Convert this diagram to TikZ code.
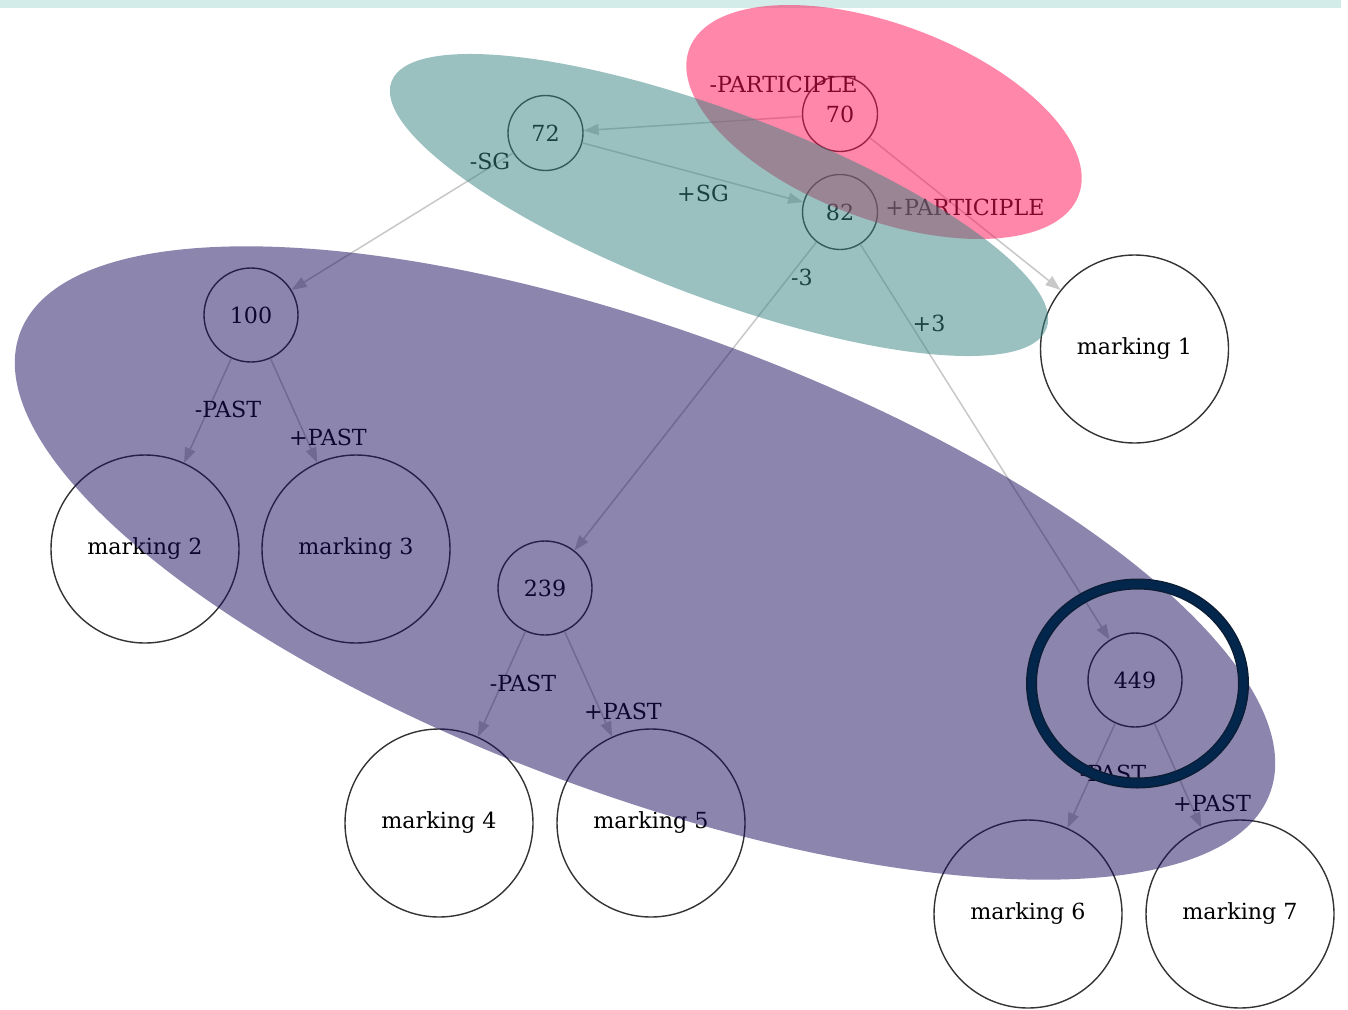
\documentclass[tikz,border=0pt]{standalone}
\usepackage{fontspec}
\setmainfont{DejaVu Serif}
\usetikzlibrary{arrows.meta}
\definecolor{tealc}{HTML}{378581}
\definecolor{pinkc}{HTML}{FF1155}
\definecolor{purc}{HTML}{1A0E60}
\definecolor{ringc}{HTML}{03264C}
\definecolor{ringd}{HTML}{0B1E36}
\definecolor{bandc}{HTML}{D3ECEA}
\definecolor{edgec}{HTML}{C8C8C8}
\begin{document}
\begin{tikzpicture}[x=1pt,y=-1pt,
  st/.style={circle,draw=black!80,line width=1.4pt,fill=white,inner sep=0pt,font=\fontsize{22.2}{26}\selectfont},
  smallnode/.style={st,minimum size=75pt},
  midnode/.style={st,minimum size=94pt},
  bignode/.style={st,minimum size=188pt},
  ed/.style={draw=edgec,line width=1.5pt,-{Triangle[length=15pt,width=11pt]}},
  lab/.style={font=\fontsize{22.2}{26}\selectfont,inner sep=0pt},
  blob/.style={opacity=0.5}]
\useasboundingbox (0,0) rectangle (1348,1009);
\fill[white] (0,0) rectangle (1348,1009);
\fill[bandc] (0,0) rectangle (1341,8);

% nodes
\node[smallnode] (n72) at (545.5,133) {72};
\node[smallnode] (n70) at (840,114) {70};
\node[smallnode] (n82) at (840,212) {82};
\node[midnode] (n100) at (251,315) {100};
\node[midnode] (n239) at (545,588) {239};
\node[midnode] (n449) at (1135,680) {449};
\node[bignode] (m1) at (1134.5,349) {marking 1};
\node[bignode] (m2) at (145,549) {marking 2};
\node[bignode] (m3) at (356,549) {marking 3};
\node[bignode] (m4) at (439,823) {marking 4};
\node[bignode] (m5) at (651,823) {marking 5};
\node[bignode] (m6) at (1028,914) {marking 6};
\node[bignode] (m7) at (1240,914) {marking 7};

% edges
\draw[ed] (n70) -- (n72);
\draw[ed] (n70) -- (m1);
\draw[ed] (n72) -- (n82);
\draw[ed] (n72) -- (n100);
\draw[ed] (n82) -- (n239);
\draw[ed] (n82) -- (n449);
\draw[ed] (n100) -- (m2);
\draw[ed] (n100) -- (m3);
\draw[ed] (n239) -- (m4);
\draw[ed] (n239) -- (m5);
\draw[ed] (n449) -- (m6);
\draw[ed] (n449) -- (m7);

% labels
\node[lab] (l1) at (783.5,84) {-PARTICIPLE};
\node[lab] (l2) at (965,207) {+PARTICIPLE};
\node[lab] (l3) at (703,193) {+SG};
\node[lab] (l4) at (490,161) {-SG};
\node[lab] (l5) at (802,277) {-3};
\node[lab] (l6) at (929,323) {+3};
\node[lab] (l7) at (228,409) {-PAST};
\node[lab] (l8) at (328,437) {+PAST};
\node[lab] (l9) at (523,683) {-PAST};
\node[lab] (l10) at (623,711) {+PAST};
\node[lab] (l11) at (1113,773) {-PAST};
\node[lab] (l12) at (1212,803) {+PAST};

% overlays
\fill[pinkc,blob,rotate around={-20.6:(884,122)}] (884,122) ellipse [x radius=208, y radius=97.5];
\fill[tealc,blob,rotate around={-20.65:(719,205)}] (719,205) ellipse [x radius=350, y radius=93];
\fill[purc,blob,rotate around={-20.2:(645,563)}] (645,563) ellipse [x radius=666, y radius=232];

% highlight ring
\draw[ringd,line width=11pt] (1137.5,683.5) ellipse [x radius=106, y radius=99.5];
\draw[ringc,line width=8pt] (1137.5,683.5) ellipse [x radius=106, y radius=99.5];
\end{tikzpicture}
\end{document}
